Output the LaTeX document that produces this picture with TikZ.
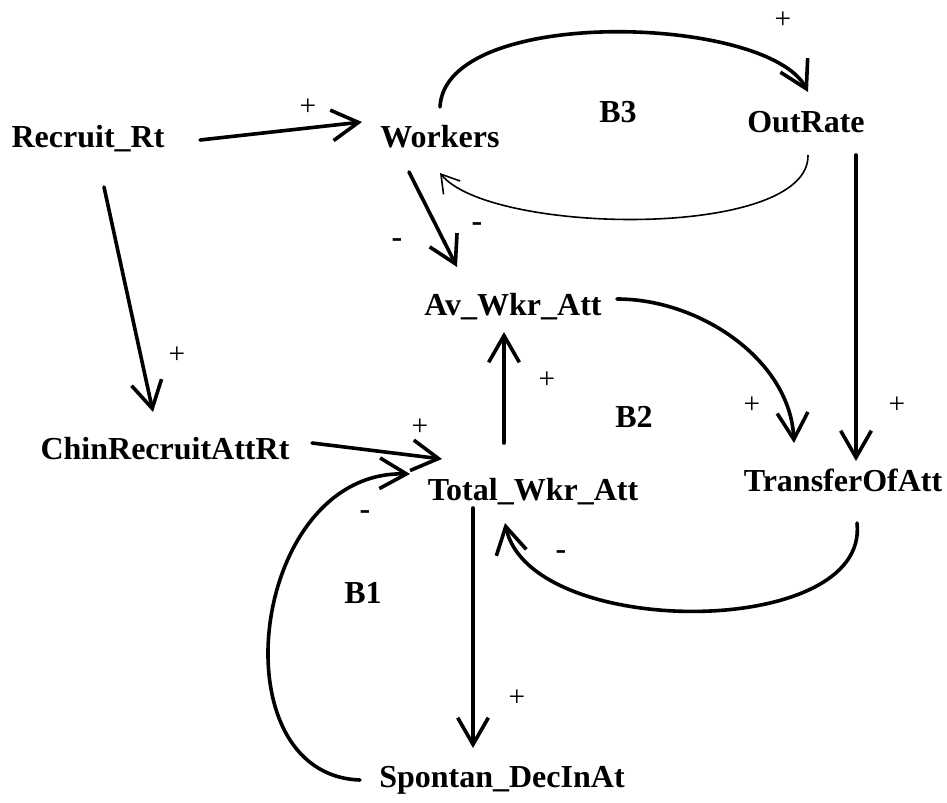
\documentclass[tikz,border=0pt]{standalone}
\usepackage{fontspec}
\setmainfont{Liberation Serif}
\usetikzlibrary{arrows.meta}
\begin{document}
\begin{tikzpicture}[x=0.75pt,y=-0.75pt,
  lbl/.style={font=\fontsize{24}{28}\selectfont\bfseries, inner sep=0pt, anchor=base},
  pl/.style={font=\fontsize{22}{26}\selectfont, inner sep=0pt},
  mi/.style={font=\fontsize{24}{28}\selectfont\bfseries, inner sep=0pt},
  arr/.style={line width=2.7pt, line cap=round, -{Straight Barb[length=20pt,width=23pt,line width=2.7pt]}},
  thinarr/.style={line width=1.2pt, -{Straight Barb[length=13pt,width=16pt,line width=1.2pt]}}]
\useasboundingbox (0,0) rectangle (947,803);

% variables
\node[lbl] (rec)  at (88,147)  {Recruit\_Rt};
\node[lbl] (wor)  at (440,147) {Workers};
\node[lbl] (out)  at (806,132) {OutRate};
\node[lbl] (bthree) at (618,122) {B3};
\node[lbl] (av)   at (513,315) {Av\_Wkr\_Att};
\node[lbl] (chin) at (165,459) {ChinRecruitAttRt};
\node[lbl] (btwo) at (634,427) {B2};
\node[lbl] (tot)  at (533,500) {Total\_Wkr\_Att};
\node[lbl] (tra)  at (843,491) {TransferOfAtt};
\node[lbl] (bone) at (363,603) {B1};
\node[lbl] (spo)  at (502,787) {Spontan\_DecInAt};

% polarity labels
\node[pl] (p1) at (308,107) {+};
\node[pl] (p2) at (783,20)  {+};
\node[pl] (p3) at (177,355) {+};
\node[pl] (p4) at (420,427) {+};
\node[pl] (p5) at (547,380) {+};
\node[pl] (p6) at (752,405) {+};
\node[pl] (p7) at (897,405) {+};
\node[pl] (p8) at (517,698) {+};
\node[mi] (m1) at (397,243) {-};
\node[mi] (m2) at (477,227) {-};
\node[mi] (m3) at (365,515) {-};
\node[mi] (m4) at (561,555) {-};

% connectors
\draw[arr] ([shift={(112,-7)}]rec.base) -- ([shift={(-78,-25)}]wor.base);
\draw[arr] ([shift={(0,-40)}]wor.base) .. controls (445,5) and (768,15) .. ([shift={(2,-40)}]out.base);
\draw[thinarr] ([shift={(2,23)}]out.base) .. controls (810,240) and (490,235) .. ([shift={(0,26)}]wor.base);
\draw[arr] ([shift={(-31,25)}]wor.base) -- ([shift={(-56,-48)}]av.base);
\draw[arr] ([shift={(16,40)}]rec.base) -- ([shift={(-12,-47)}]chin.base);
\draw[arr] ([shift={(147,-16)}]chin.base) -- ([shift={(-91,-41)}]tot.base);
\draw[arr] ([shift={(-29,-57)}]tot.base) -- ([shift={(-9,17)}]av.base);
\draw[arr] ([shift={(104,-16)}]av.base) .. controls (700,299) and (790,360) .. ([shift={(-49,-48)}]tra.base);
\draw[arr] ([shift={(13,-336)}]tra.base) -- ([shift={(13,-30)}]tra.base);
\draw[arr] ([shift={(14,32)}]tra.base) .. controls (870,640) and (530,640) .. ([shift={(-28,23)}]tot.base);
\draw[arr] ([shift={(-60,8)}]tot.base) -- ([shift={(-29,-39)}]spo.base);
\draw[arr] ([shift={(-142,-7)}]spo.base) .. controls (215,775) and (250,470) .. ([shift={(-123,-26)}]tot.base);
\end{tikzpicture}
\end{document}
